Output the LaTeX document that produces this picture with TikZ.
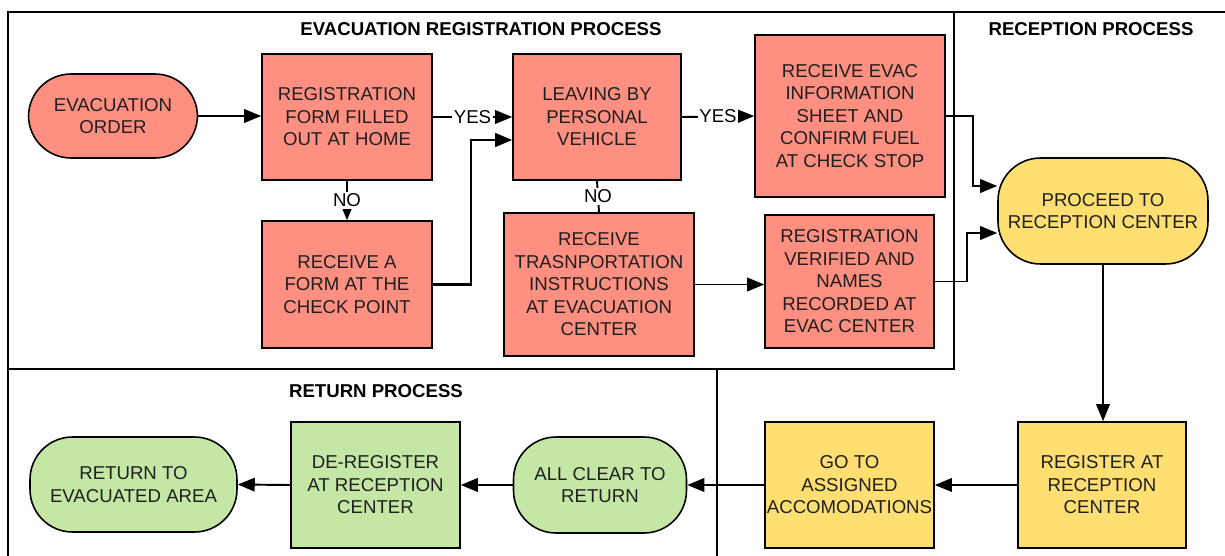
\documentclass[tikz,border=0pt]{standalone}
\usepackage{fontspec}
\setmainfont{Liberation Sans}
\usetikzlibrary{arrows.meta}
\definecolor{evacred}{RGB}{255,143,128}
\definecolor{recyellow}{RGB}{255,223,113}
\definecolor{retgreen}{RGB}{197,231,166}

\begin{document}
\begin{tikzpicture}[x=0.02cm,y=-0.02cm,
    font=\fontsize{10.6}{12.8}\selectfont,
    stepnode/.style={draw=black,line width=0.9pt,align=center,text=black!88,inner sep=1pt},
    procbox/.style={stepnode,rectangle},
    termbox/.style={stepnode,rounded corners=0.85cm},
    flow/.style={line width=1.1pt,-{Triangle[length=0.34cm,width=0.27cm]}},
    lane/.style={line width=0.9pt},
    lanetitle/.style={font=\fontsize{10.6}{12.8}\selectfont\bfseries},
    answer/.style={fill=white,inner sep=1pt}]

    \useasboundingbox (0,0) rectangle (1225,555);
    \begin{scope}
        \clip (0,0) rectangle (1225,555);
        \draw[lane] (8,12) rectangle (954,369);
        \draw[lane] (954,12) -- (1240,12);
        \draw[lane] (8,369) rectangle (717,600);
    \end{scope}

    \node[lanetitle] (evactitle) at (481,29) {EVACUATION REGISTRATION PROCESS};
    \node[lanetitle] (rectitle) at (1091,29) {RECEPTION PROCESS};
    \node[lanetitle] (rettitle) at (376,391) {RETURN PROCESS};

    % evacuation registration
    \node[termbox,fill=evacred,minimum width=3.38cm,minimum height=1.68cm] (order) at (113,116) {EVACUATION\\ORDER};
    \node[procbox,fill=evacred,minimum width=3.4cm,minimum height=2.52cm] (home) at (347,117) {REGISTRATION\\FORM FILLED\\OUT AT HOME};
    \node[procbox,fill=evacred,minimum width=3.36cm,minimum height=2.52cm] (leave) at (597,117) {LEAVING BY\\PERSONAL\\VEHICLE};
    \node[procbox,fill=evacred,minimum width=3.8cm,minimum height=3.24cm] (evac) at (850,116) {RECEIVE EVAC\\INFORMATION\\SHEET AND\\CONFIRM FUEL\\AT CHECK STOP};
    \node[procbox,fill=evacred,minimum width=3.4cm,minimum height=2.54cm] (form) at (347,284.5) {RECEIVE A\\FORM AT THE\\CHECK POINT};
    \node[procbox,fill=evacred,minimum width=3.8cm,minimum height=2.86cm] (trans) at (599,284.5) {RECEIVE\\TRASNPORTATION\\INSTRUCTIONS\\AT EVACUATION\\CENTER};
    \node[procbox,fill=evacred,minimum width=3.38cm,minimum height=2.66cm] (verify) at (849.5,281.5) {REGISTRATION\\VERIFIED AND\\NAMES\\RECORDED AT\\EVAC CENTER};

    % reception
    \node[termbox,fill=recyellow,minimum width=4.2cm,minimum height=2.12cm] (proceed) at (1103,211) {PROCEED TO\\RECEPTION CENTER};
    \node[procbox,fill=recyellow,minimum width=3.36cm,minimum height=2.52cm] (register) at (1102,485) {REGISTER AT\\RECEPTION\\CENTER};
    \node[procbox,fill=recyellow,minimum width=3.38cm,minimum height=2.52cm,inner xsep=0pt] (goto) at (849.5,485) {GO TO\\ASSIGNED\\ACCOMODATIONS};

    % return
    \node[termbox,fill=retgreen,minimum width=3.46cm,minimum height=1.92cm] (clear) at (600,485) {ALL CLEAR TO\\RETURN};
    \node[procbox,fill=retgreen,minimum width=3.38cm,minimum height=2.52cm] (dereg) at (375.5,485) {DE-REGISTER\\AT RECEPTION\\CENTER};
    \node[termbox,fill=retgreen,minimum width=4.14cm,minimum height=1.9cm] (back) at (133.5,484.5) {RETURN TO\\EVACUATED AREA};

    \coordinate (join) at (471,140);
    \coordinate (ra) at (973,186);
    \coordinate (rb) at (967,233);

    \draw[flow] (order.east) -- (home.west |- order.east);
    \draw[flow] (home.east) -- node[answer]{YES} (leave.west);
    \draw[flow] (home.south) -- node[answer]{NO} (form.north);
    \draw[flow,line width=1.6pt] (form.east) -| (join) -- (join -| leave.west);
    \draw[line width=1.1pt] (leave.south) -- node[answer]{NO} (trans.north);
    \draw[flow] (leave.east) -- node[answer]{YES} (evac.west);
    \draw[flow] (trans.east) -- (verify.west |- trans.east);
    \draw[flow] (evac.east) -| (ra) -- (ra -| proceed.west);
    \draw[flow] (verify.east) -| (rb) -- (rb -| proceed.west);
    \draw[flow] (proceed.south) -- (proceed.south |- register.north);
    \draw[flow] (register.west) -- (goto.east);
    \draw[flow] (goto.west) -- (clear.east);
    \draw[flow] (clear.west) -- (dereg.east);
    \draw[flow] (dereg.west) -- (back.east);
\end{tikzpicture}
\end{document}
